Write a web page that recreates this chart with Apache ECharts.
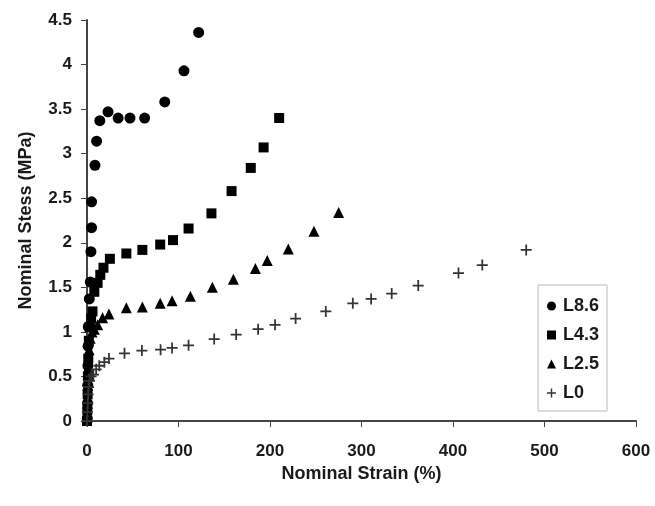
<!DOCTYPE html>
<html>
<head>
<meta charset="utf-8">
<script src="https://cdn.jsdelivr.net/npm/echarts@6/dist/echarts.min.js"></script>
<style>
  html, body { margin: 0; padding: 0; background: #fff; }
  #main { width: 655px; height: 506px; }
</style>
</head>
<body>
<div id="main"></div>
<script>
// [strain %, stress MPa]
var l86 = [[0.3, 0.03], [0.6, 0.2], [0.8, 0.4], [1, 0.62], [1.2, 0.84], [1.4, 1.06], [2.5, 1.37], [3.6, 1.56],
  [4.3, 1.9], [5, 2.17], [5, 2.46], [8.7, 2.87], [10.5, 3.14], [14, 3.37], [23, 3.47], [34, 3.4], [47, 3.4],
  [63, 3.4], [85, 3.58], [106, 3.93], [122, 4.36]];
var l43 = [[0, 0], [0.4, 0.12], [0.7, 0.3], [1, 0.5], [1.4, 0.7], [2, 0.9], [3, 1.05], [4.5, 1.15], [6, 1.23],
  [8, 1.45], [11.6, 1.55], [14.5, 1.64], [18, 1.72], [25, 1.82], [43, 1.88], [60.5, 1.92], [80, 1.98],
  [94, 2.03], [111, 2.16], [136, 2.33], [158, 2.58], [179, 2.84], [193, 3.07], [210, 3.4]];
var l25 = [[0.2, 0.04], [0.5, 0.2], [0.9, 0.4], [1.4, 0.6], [2.3, 0.8], [3.5, 0.93], [5.5, 1.0], [8, 1.03],
  [11.6, 1.08], [17, 1.16], [24, 1.2], [43, 1.27], [60.5, 1.28], [80, 1.32], [93, 1.35], [113, 1.4],
  [137, 1.5], [160, 1.59], [184, 1.71], [197, 1.8], [220, 1.93], [248, 2.13], [275, 2.34]];
var l0 = [[0, 0], [0.4, 0.1], [0.8, 0.2], [1.2, 0.3], [1.8, 0.38], [2.8, 0.45], [4.5, 0.5], [7, 0.52],
  [10, 0.58], [13.4, 0.62], [19, 0.66], [24, 0.7], [41, 0.76], [60, 0.79], [80.4, 0.8], [93, 0.82],
  [111, 0.85], [139, 0.92], [163, 0.97], [187, 1.03], [205.5, 1.08], [228, 1.15], [261, 1.23],
  [290.5, 1.32], [310.5, 1.37], [333, 1.43], [362, 1.52], [406, 1.66], [432, 1.75], [480, 1.92]];

var plus = 'path://M4.2,0H5.8V4.2H10V5.8H5.8V10H4.2V5.8H0V4.2H4.2Z';
var font = 'Liberation Sans, Arial, sans-serif';

var myChart = echarts.init(document.getElementById('main'));
var option = {
  animation: false,
  backgroundColor: '#fff',
  grid: { left: 87, right: 19, top: 20, bottom: 85 },
  legend: {
    orient: 'vertical',
    left: 538,
    top: 285,
    padding: [12, 8, 9, 9],
    itemGap: 11,
    itemWidth: 9,
    itemHeight: 9,
    borderColor: '#bbb',
    borderWidth: 1,
    textStyle: { fontFamily: font, fontSize: 18, fontWeight: 'bold', color: '#1a1a1a', padding: [0, 0, 0, 2] },
    data: ['L8.6', 'L4.3', 'L2.5', 'L0']
  },
  xAxis: {
    type: 'value',
    min: 0,
    max: 600,
    interval: 100,
    name: 'Nominal Strain (%)',
    nameLocation: 'middle',
    nameGap: 40,
    nameTextStyle: { fontFamily: font, fontSize: 18, fontWeight: 'bold', color: '#1a1a1a' },
    axisLine: { lineStyle: { color: '#444', width: 2 } },
    axisTick: { show: true, length: 6, lineStyle: { color: '#444' } },
    axisLabel: { fontFamily: font, fontSize: 17, fontWeight: 'bold', color: '#1a1a1a', margin: 22 },
    splitLine: { show: false }
  },
  yAxis: {
    type: 'value',
    min: 0,
    max: 4.5,
    interval: 0.5,
    name: 'Nominal Stess (MPa)',
    nameLocation: 'middle',
    nameGap: 52,
    nameTextStyle: { fontFamily: font, fontSize: 18, fontWeight: 'bold', color: '#1a1a1a' },
    axisLine: { show: true, lineStyle: { color: '#444', width: 2 } },
    axisTick: { show: true, length: 6, lineStyle: { color: '#444' } },
    axisLabel: { fontFamily: font, fontSize: 17, fontWeight: 'bold', color: '#1a1a1a', margin: 15 },
    splitLine: { show: false }
  },
  series: [
    { name: 'L8.6', type: 'scatter', symbol: 'circle', symbolSize: 11, data: l86, itemStyle: { color: '#000', opacity: 1 } },
    { name: 'L4.3', type: 'scatter', symbol: 'rect', symbolSize: 10, data: l43, itemStyle: { color: '#000', opacity: 1 } },
    { name: 'L2.5', type: 'scatter', symbol: 'triangle', symbolSize: 11, data: l25, itemStyle: { color: '#000', opacity: 1 } },
    { name: 'L0', type: 'scatter', symbol: plus, symbolSize: 11, data: l0, itemStyle: { color: '#333', opacity: 1 } }
  ]
};
myChart.setOption(option);
</script>
</body>
</html>
